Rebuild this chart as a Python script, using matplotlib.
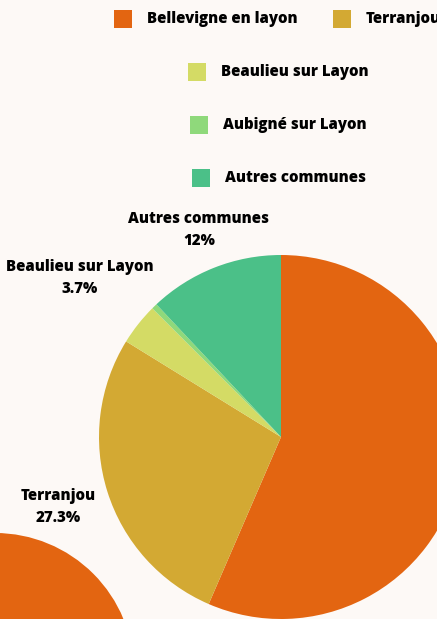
import matplotlib.pyplot as plt
from matplotlib.patches import Circle, Rectangle

communes = ['Bellevigne en layon', 'Terranjou', 'Beaulieu sur Layon', 'Aubigné sur Layon', 'Autres communes']
parts = [56.5, 27.3, 3.7, 0.5, 12.0]
labels_shown = {'Terranjou': '27.3%', 'Beaulieu sur Layon': '3.7%', 'Autres communes': '12%'}
colors = ['#E36511', '#D3A933', '#D4DB65', '#8FD97B', '#4BC088']
bg = '#FDF9F6'

plt.rcParams['font.family'] = ['Open Sans', 'DejaVu Sans']

fig = plt.figure(figsize=(4.37, 6.19), dpi=100, facecolor=bg)
ax = fig.add_axes([0, 0, 1, 1])
ax.set_facecolor(bg)

H = 619
ax.pie(parts, colors=colors, startangle=90, counterclock=False,
       center=(281, H - 437), radius=182, frame=True,
       wedgeprops={'linewidth': 0})

# piece of a second chart peeking in at the bottom left
ax.add_patch(Circle((-5, H - 672), 139, color=colors[0], lw=0))

# legend, laid out like the original
legend_pos = [(114, 19), (333, 19), (188, 72), (190, 125), (192, 178)]
for name, col, (x, y) in zip(communes, colors, legend_pos):
    ax.add_patch(Rectangle((x, H - y - 9), 18, 18, color=col, lw=0))
    ax.text(x + 33, H - y, name, fontsize=10.8, fontweight='heavy', va='center', ha='left')

label_pos = {'Autres communes': (199, 219), 'Beaulieu sur Layon': (80, 267), 'Terranjou': (58, 496)}
for name, (x, y) in label_pos.items():
    ax.text(x, H - y, name, fontsize=10.8, fontweight='heavy', ha='center', va='center')
    ax.text(x, H - y - 22, labels_shown[name], fontsize=10.8, fontweight='heavy', ha='center', va='center')

ax.set_xlim(0, 437)
ax.set_ylim(0, H)
ax.set_aspect('auto')
ax.axis('off')

plt.savefig('out.png', dpi=100, facecolor=bg)
